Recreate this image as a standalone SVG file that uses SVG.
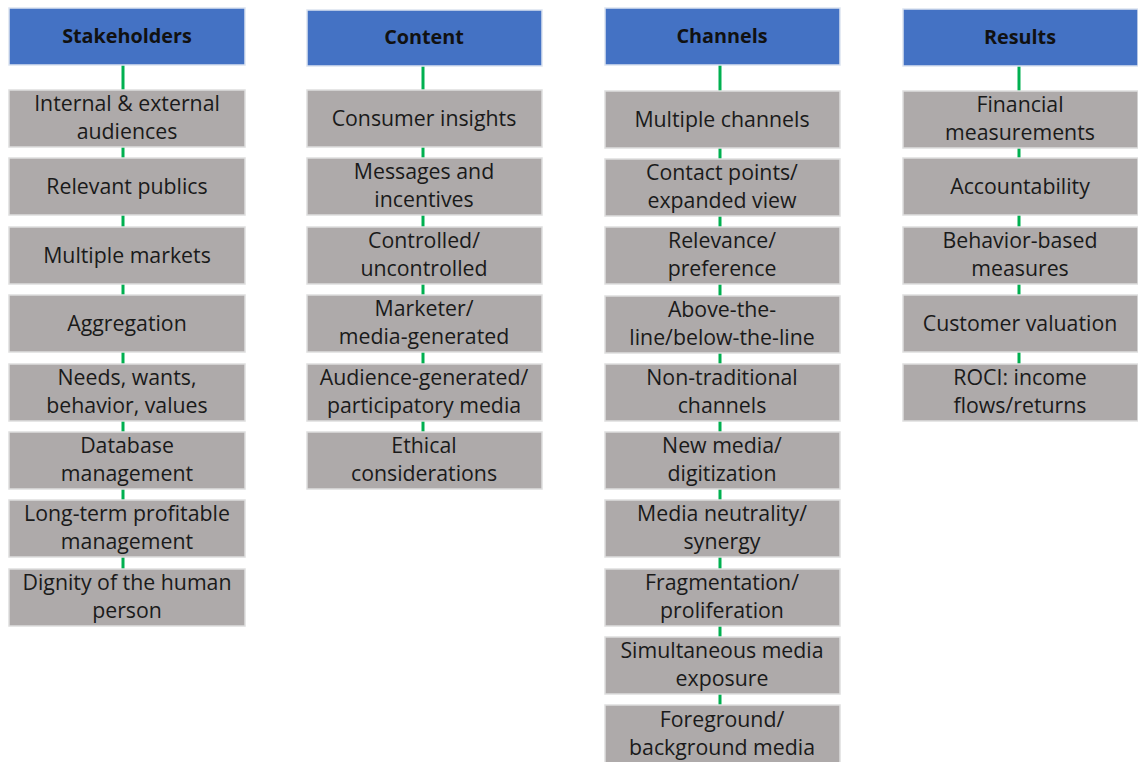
<svg xmlns="http://www.w3.org/2000/svg" width="1138" height="762" viewBox="0 0 1138 762">
  <style>
    .hdr { fill: #4472c4; stroke: #dbe3f0; stroke-width: 1.5; }
    .box { fill: #aeaaaa; stroke: #dedede; stroke-width: 1.5; }
    .ht { font-family: "Open Sans", "Liberation Sans", sans-serif; font-size: 19.8px; font-weight: bold; fill: #111; text-anchor: middle; }
    .bt { font-family: "Open Sans", "Liberation Sans", sans-serif; font-size: 21.3px; fill: #1a1a1a; text-anchor: middle; }
    .link { stroke: #00b050; stroke-width: 3; fill: none; }
  </style>
  <rect width="1138" height="762" fill="#ffffff"/>

  <!-- connectors -->
  <g id="connectors">
    <path class="link" d="M123,65V90 M123,147V158 M123,215V227 M123,284V295 M123,352V364 M123,421V432 M123,489V500 M123,557V569"/>
    <path class="link" d="M423,66V90 M423,147V158 M423,215V227 M423,284V295 M423,352V364 M423,421V432"/>
    <path class="link" d="M720,65V91 M720,148V159 M720,216V227 M720,284V296 M720,353V364 M720,421V432 M720,489V500 M720,557V569 M720,626V637 M720,694V705"/>
    <path class="link" d="M1019,66V91 M1019,148V158 M1019,215V227 M1019,284V295 M1019,352V364"/>
  </g>

  <!-- Stakeholders column -->
  <g id="stakeholders">
    <rect class="hdr" x="9" y="8" width="236" height="57"/>
    <text class="ht" x="127" y="43">Stakeholders</text>
  </g>
  <g id="s1"><rect class="box" x="9" y="90" width="236" height="57"/>
    <text class="bt" x="127" y="111">Internal &amp; external</text><text class="bt" x="127" y="139">audiences</text></g>
  <g id="s2"><rect class="box" x="9" y="158" width="236" height="57"/>
    <text class="bt" x="127" y="194">Relevant publics</text></g>
  <g id="s3"><rect class="box" x="9" y="227" width="236" height="57"/>
    <text class="bt" x="127" y="263">Multiple markets</text></g>
  <g id="s4"><rect class="box" x="9" y="295" width="236" height="57"/>
    <text class="bt" x="127" y="331">Aggregation</text></g>
  <g id="s5"><rect class="box" x="9" y="364" width="236" height="57"/>
    <text class="bt" x="127" y="385">Needs, wants,</text><text class="bt" x="127" y="413">behavior, values</text></g>
  <g id="s6"><rect class="box" x="9" y="432" width="236" height="57"/>
    <text class="bt" x="127" y="453">Database</text><text class="bt" x="127" y="481">management</text></g>
  <g id="s7"><rect class="box" x="9" y="500" width="236" height="57"/>
    <text class="bt" x="127" y="521">Long-term profitable</text><text class="bt" x="127" y="549">management</text></g>
  <g id="s8"><rect class="box" x="9" y="569" width="236" height="57"/>
    <text class="bt" x="127" y="590">Dignity of the human</text><text class="bt" x="127" y="618">person</text></g>

  <!-- Content column -->
  <g id="content">
    <rect class="hdr" x="307" y="10" width="235" height="56"/>
    <text class="ht" x="424" y="44">Content</text>
  </g>
  <g id="c1"><rect class="box" x="307" y="90" width="235" height="57"/>
    <text class="bt" x="424" y="126">Consumer insights</text></g>
  <g id="c2"><rect class="box" x="307" y="158" width="235" height="57"/>
    <text class="bt" x="424" y="179">Messages and</text><text class="bt" x="424" y="207">incentives</text></g>
  <g id="c3"><rect class="box" x="307" y="227" width="235" height="57"/>
    <text class="bt" x="424" y="248">Controlled/</text><text class="bt" x="424" y="276">uncontrolled</text></g>
  <g id="c4"><rect class="box" x="307" y="295" width="235" height="57"/>
    <text class="bt" x="424" y="316">Marketer/</text><text class="bt" x="424" y="344">media-generated</text></g>
  <g id="c5"><rect class="box" x="307" y="364" width="235" height="57"/>
    <text class="bt" x="424" y="385">Audience-generated/</text><text class="bt" x="424" y="413">participatory media</text></g>
  <g id="c6"><rect class="box" x="307" y="432" width="235" height="57"/>
    <text class="bt" x="424" y="453">Ethical</text><text class="bt" x="424" y="481">considerations</text></g>

  <!-- Channels column -->
  <g id="channels">
    <rect class="hdr" x="605" y="8" width="235" height="57"/>
    <text class="ht" x="722" y="43">Channels</text>
  </g>
  <g id="ch1"><rect class="box" x="605" y="91" width="235" height="57"/>
    <text class="bt" x="722" y="127">Multiple channels</text></g>
  <g id="ch2"><rect class="box" x="605" y="159" width="235" height="57"/>
    <text class="bt" x="722" y="180">Contact points/</text><text class="bt" x="722" y="208">expanded view</text></g>
  <g id="ch3"><rect class="box" x="605" y="227" width="235" height="57"/>
    <text class="bt" x="722" y="248">Relevance/</text><text class="bt" x="722" y="276">preference</text></g>
  <g id="ch4"><rect class="box" x="605" y="296" width="235" height="57"/>
    <text class="bt" x="722" y="317">Above-the-</text><text class="bt" x="722" y="345">line/below-the-line</text></g>
  <g id="ch5"><rect class="box" x="605" y="364" width="235" height="57"/>
    <text class="bt" x="722" y="385">Non-traditional</text><text class="bt" x="722" y="413">channels</text></g>
  <g id="ch6"><rect class="box" x="605" y="432" width="235" height="57"/>
    <text class="bt" x="722" y="453">New media/</text><text class="bt" x="722" y="481">digitization</text></g>
  <g id="ch7"><rect class="box" x="605" y="500" width="235" height="57"/>
    <text class="bt" x="722" y="521">Media neutrality/</text><text class="bt" x="722" y="549">synergy</text></g>
  <g id="ch8"><rect class="box" x="605" y="569" width="235" height="57"/>
    <text class="bt" x="722" y="590">Fragmentation/</text><text class="bt" x="722" y="618">proliferation</text></g>
  <g id="ch9"><rect class="box" x="605" y="637" width="235" height="57"/>
    <text class="bt" x="722" y="658">Simultaneous media</text><text class="bt" x="722" y="686">exposure</text></g>
  <g id="ch10"><rect class="box" x="605" y="705" width="235" height="60"/>
    <text class="bt" x="722" y="727">Foreground/</text><text class="bt" x="722" y="755">background media</text></g>

  <!-- Results column -->
  <g id="results">
    <rect class="hdr" x="903" y="9" width="235" height="57"/>
    <text class="ht" x="1020" y="44">Results</text>
  </g>
  <g id="r1"><rect class="box" x="903" y="91" width="235" height="57"/>
    <text class="bt" x="1020" y="112">Financial</text><text class="bt" x="1020" y="140">measurements</text></g>
  <g id="r2"><rect class="box" x="903" y="158" width="235" height="57"/>
    <text class="bt" x="1020" y="194">Accountability</text></g>
  <g id="r3"><rect class="box" x="903" y="227" width="235" height="57"/>
    <text class="bt" x="1020" y="248">Behavior-based</text><text class="bt" x="1020" y="276">measures</text></g>
  <g id="r4"><rect class="box" x="903" y="295" width="235" height="57"/>
    <text class="bt" x="1020" y="331">Customer valuation</text></g>
  <g id="r5"><rect class="box" x="903" y="364" width="235" height="57"/>
    <text class="bt" x="1020" y="385">ROCI: income</text><text class="bt" x="1020" y="413">flows/returns</text></g>
</svg>
